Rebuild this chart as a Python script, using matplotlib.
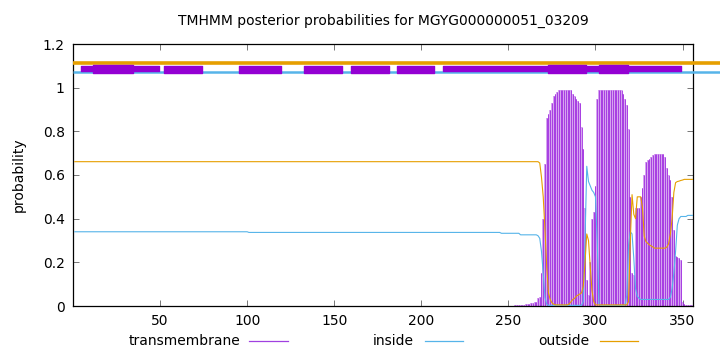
import matplotlib
matplotlib.use("Agg")
import matplotlib.pyplot as plt
from matplotlib.lines import Line2D

plt.rcParams['font.family'] = ['DejaVu Sans']

# flat start of the inside / outside curves (residue, value)
head_x = [1, 100, 101, 245, 246, 256]
inside_head = [0.340, 0.340, 0.337, 0.337, 0.333, 0.333]
outside_head = [0.661, 0.661, 0.661, 0.661, 0.661, 0.661]

# per-residue values, residues 257..356
tail_x = list(range(257, 357))
outside_tail = [
    0.661, 0.661, 0.661, 0.661, 0.661, 0.661, 0.661, 0.661, 0.661, 0.661,
    0.661, 0.655, 0.59, 0.5, 0.35, 0.18, 0.06, 0.03, 0.015, 0.008,
    0.005, 0.005, 0.005, 0.005, 0.005, 0.005, 0.005, 0.005, 0.01, 0.02,
    0.03, 0.035, 0.045, 0.05, 0.055, 0.06, 0.09, 0.2, 0.33, 0.3,
    0.18, 0.07, 0.02, 0.005, 0.005, 0.005, 0.005, 0.005, 0.005, 0.005,
    0.005, 0.005, 0.005, 0.005, 0.005, 0.005, 0.005, 0.005, 0.005, 0.005,
    0.005, 0.005, 0.02, 0.3, 0.51, 0.42, 0.40, 0.5, 0.5, 0.5,
    0.45, 0.32, 0.295, 0.287, 0.28, 0.275, 0.27, 0.265, 0.265, 0.265,
    0.265, 0.265, 0.265, 0.265, 0.27, 0.285, 0.33, 0.4, 0.52, 0.565,
    0.57, 0.572, 0.575, 0.577, 0.58, 0.58, 0.58, 0.58, 0.58, 0.58,
]
inside_tail = [
    0.326, 0.326, 0.326, 0.326, 0.326, 0.326, 0.326, 0.326, 0.326, 0.326,
    0.322, 0.31, 0.25, 0.15, 0.04, 0.008, 0.003, 0.003, 0.003, 0.003,
    0.003, 0.003, 0.003, 0.003, 0.003, 0.003, 0.003, 0.003, 0.003, 0.003,
    0.003, 0.003, 0.003, 0.003, 0.003, 0.003, 0.02, 0.3, 0.64, 0.57,
    0.55, 0.53, 0.52, 0.5, 0.3, 0.01, 0.002, 0.002, 0.002, 0.002,
    0.002, 0.002, 0.002, 0.002, 0.002, 0.002, 0.002, 0.002, 0.002, 0.002,
    0.005, 0.05, 0.28, 0.34, 0.33, 0.22, 0.08, 0.045, 0.035, 0.03,
    0.03, 0.03, 0.03, 0.03, 0.03, 0.03, 0.03, 0.03, 0.03, 0.03,
    0.03, 0.03, 0.03, 0.03, 0.03, 0.03, 0.04, 0.08, 0.15, 0.25,
    0.37, 0.4, 0.41, 0.41, 0.41, 0.41, 0.415, 0.415, 0.415, 0.415,
]

# transmembrane posterior, residues 250..356
tm_x = list(range(250, 357))
tm = [
    0.001, 0.001, 0.002, 0.002, 0.003, 0.003, 0.003,
    0.004, 0.005, 0.006, 0.007, 0.008, 0.01, 0.012, 0.015, 0.018, 0.02,
    0.035, 0.04, 0.15, 0.4, 0.65, 0.86, 0.88, 0.9, 0.93, 0.96,
    0.97, 0.98, 0.99, 0.99, 0.99, 0.99, 0.99, 0.99, 0.99, 0.99,
    0.97, 0.96, 0.95, 0.94, 0.93, 0.82, 0.72, 0.45, 0.12, 0.05,
    0.2, 0.4, 0.43, 0.55, 0.95, 0.99, 0.99, 0.99, 0.99, 0.99,
    0.99, 0.99, 0.99, 0.99, 0.99, 0.99, 0.99, 0.99, 0.99, 0.97,
    0.95, 0.92, 0.81, 0.5, 0.15, 0.14, 0.45, 0.45, 0.45, 0.5,
    0.54, 0.6, 0.66, 0.667, 0.675, 0.684, 0.69, 0.696, 0.696, 0.696,
    0.696, 0.696, 0.696, 0.684, 0.63, 0.6, 0.577, 0.5, 0.35, 0.23,
    0.226, 0.22, 0.21, 0.02, 0.01, 0.005, 0.005, 0.005, 0.003, 0.003,
]

# predicted topology band on top (start, end residue)
tm_thin = [(4.4, 49.4), (212.6, 348.9)]
tm_mid = [(52.4, 74.2), (95.5, 119.3), (132.6, 154.5), (159.5, 181.6), (185.9, 207.5)]
tm_thick = [(11.7, 34.3), (272.9, 294.6), (302.0, 318.9)]

purple = '#9400d3'
blue = '#56b4e9'
orange = '#e69f00'

fig = plt.figure(figsize=(7.2, 3.52), dpi=100)
ax = fig.add_axes([73 / 720, 46 / 352, 620 / 720, 262 / 352])

ax.bar(tm_x, tm, width=1.0, color='#d6a4f0', linewidth=0, zorder=1)
ax.vlines(tm_x, 0, tm, color='#a02ee0', lw=0.6, zorder=2)

ax.plot(head_x + tail_x, inside_head + inside_tail, color=blue, lw=0.8, zorder=3)
ax.plot(head_x + tail_x, outside_head + outside_tail, color=orange, lw=0.8, zorder=4)

# topology lines, drawn past the right border like gnuplot does
ax.plot([0, 372], [1.111, 1.111], color=orange, lw=2.6, clip_on=False, zorder=5, solid_capstyle='butt')
ax.plot([0, 372], [1.071, 1.071], color=blue, lw=1.8, clip_on=False, zorder=5, solid_capstyle='butt')
ax.broken_barh([(a, b - a) for a, b in tm_thin], (1.077, 0.022), color=purple, zorder=6)
ax.broken_barh([(a, b - a) for a, b in tm_mid], (1.066, 0.033), color=purple, zorder=6)
ax.broken_barh([(a, b - a) for a, b in tm_thick], (1.066, 0.038), color=purple, zorder=6)

ax.set_xlim(0, 356)
ax.set_ylim(0, 1.2)
ax.set_xticks([50, 100, 150, 200, 250, 300, 350])
ax.set_yticks([0, 0.2, 0.4, 0.6, 0.8, 1.0, 1.2])
ax.set_yticklabels(['0', '0.2', '0.4', '0.6', '0.8', '1', '1.2'])
ax.tick_params(direction='in', top=True, right=True, length=4, width=0.6,
               labelsize=10, pad=6, color='#606060')
for s in ax.spines.values():
    s.set_linewidth(0.9)
ax.set_ylabel('probability', fontsize=10, labelpad=12)
ax.set_title('TMHMM posterior probabilities for MGYG000000051_03209', fontsize=10, pad=14)

# gnuplot-style key below the plot: text then line sample
key = [('transmembrane', '#a040e0', 240, 249, 288),
       ('inside', blue, 414, 425, 463),
       ('outside', orange, 589, 600, 638)]
for label, col, tx, x0, x1 in key:
    fig.text(tx / 720, 1 - 341 / 352, label, ha='right', va='center', fontsize=10)
    fig.add_artist(Line2D([x0 / 720, x1 / 720], [1 - 341 / 352] * 2, color=col, lw=0.9))

fig.savefig('out.png', dpi=100)
